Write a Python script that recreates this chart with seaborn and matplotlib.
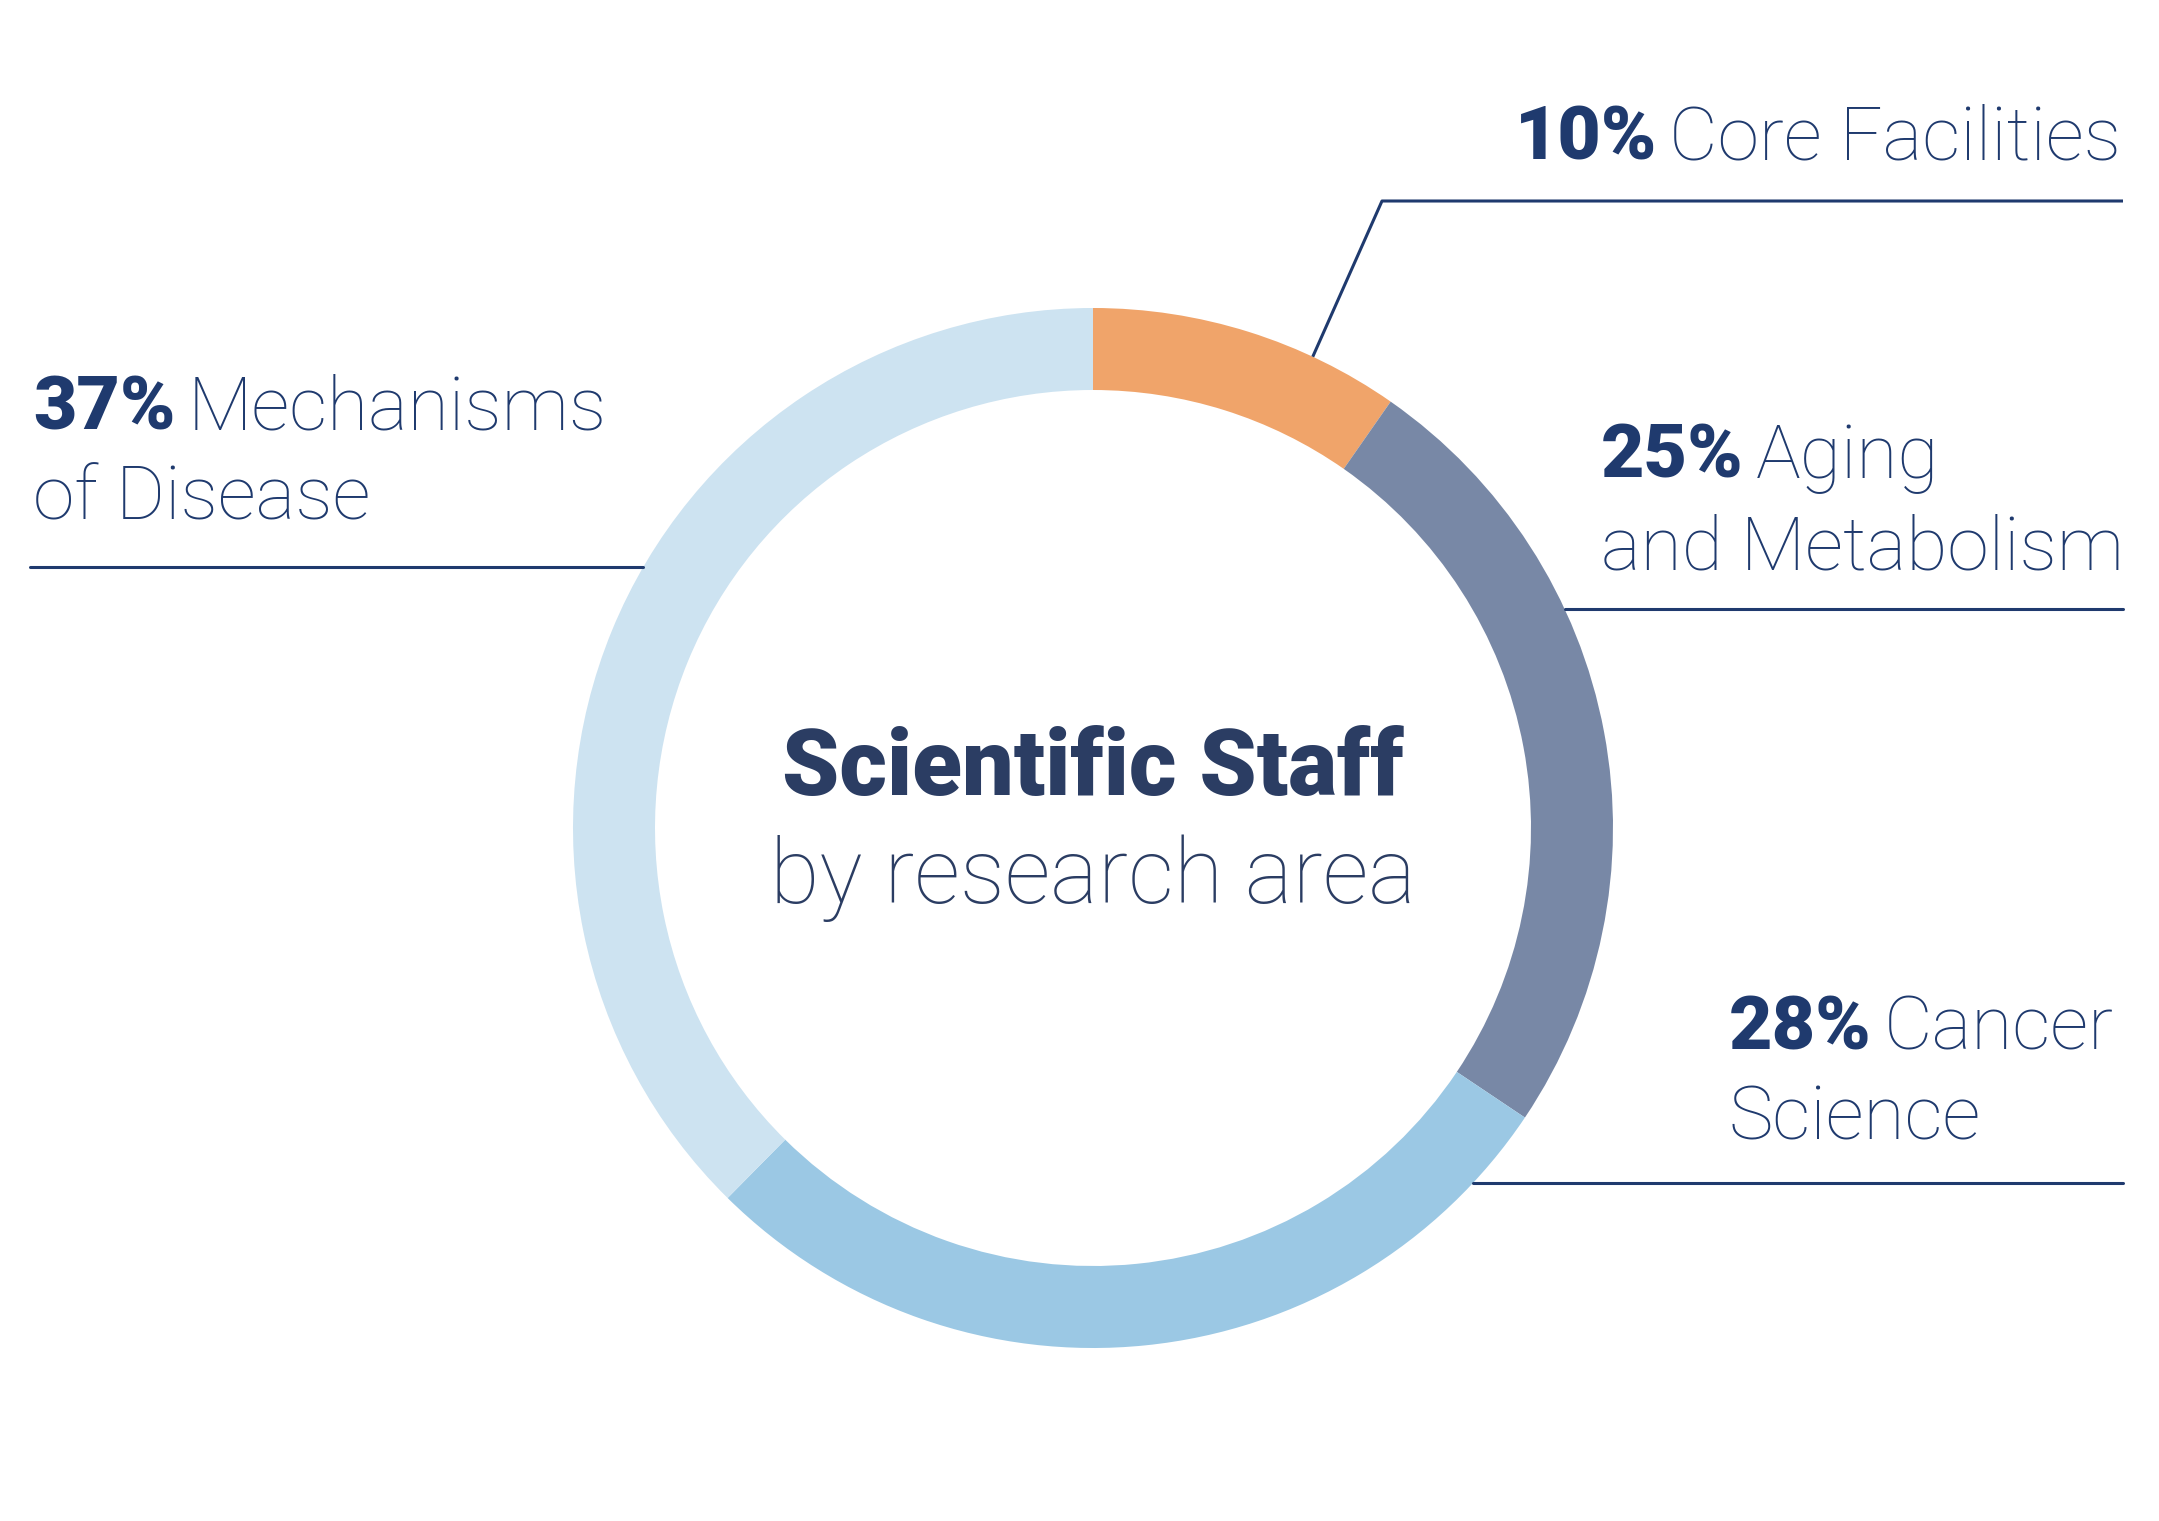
import numpy as np
import seaborn as sns
import matplotlib.pyplot as plt

# data
areas = ["Core Facilities", "Aging and Metabolism", "Cancer Science", "Mechanisms of Disease"]
shares = [9.7, 24.7, 28.0, 37.6]          # arc sizes as drawn
share_labels = [10, 25, 28, 37]           # printed percentages
label_lines = [["Core Facilities"], ["Aging", "and Metabolism"], ["Cancer", "Science"], ["Mechanisms", "of Disease"]]
colors = ["#F0A46A", "#7888A6", "#9BC8E4", "#CDE3F1"]

NAVY = "#1F3A6E"
TITLE_C = "#2B3D63"

sns.set_style("white")
plt.rcParams["font.family"] = ["Roboto", "DejaVu Sans"]

W, H = 2159, 1521
fig = plt.figure(figsize=(W / 100, H / 100), dpi=100)
ax = fig.add_axes([0, 0, 1, 1])

cx, cy, R = 1093, H - 828, 520
ring = 82

ax.pie(shares, colors=sns.color_palette(colors), startangle=90, counterclock=False,
       center=(cx, cy), radius=R, wedgeprops=dict(width=ring, linewidth=0))
ax.set_xlim(0, W)
ax.set_ylim(0, H)
ax.set_aspect("equal")
ax.axis("off")

lw = 2.2


def ring_x(y, side):
    dy = y - cy
    return cx + side * np.sqrt(R ** 2 - dy ** 2)


# leader lines
# core facilities: diagonal from ring edge then horizontal
ang = np.deg2rad(90 - 25)
px, py = cx + R * np.cos(ang), cy + R * np.sin(ang)
ax.plot([px, 1382, 2123], [py, H - 201, H - 201], color=NAVY, lw=lw, solid_capstyle="butt")
# mechanisms
y = H - 567
ax.plot([30, ring_x(y, -1)], [y, y], color=NAVY, lw=lw)
# aging
y = H - 609
ax.plot([ring_x(y, 1), 2123], [y, y], color=NAVY, lw=lw)
# cancer
y = H - 1183
ax.plot([ring_x(y, 1), 2123], [y, y], color=NAVY, lw=lw)

fig.canvas.draw()
rend = fig.canvas.get_renderer()

FS = 54


def two_part(x, y, pct, rest, ha="left"):
    bold = ax.text(x, y, f"{pct}%", fontsize=FS, fontweight="heavy", color=NAVY, va="baseline")
    light = ax.text(x, y, rest, fontsize=FS, fontweight="light", color=NAVY, va="baseline")
    bb_b = bold.get_window_extent(rend)
    bb_l = light.get_window_extent(rend)
    gap = 12
    if ha == "left":
        light.set_x(x + bb_b.width + gap)
    else:
        light.set_x(x - bb_l.width)
        bold.set_x(x - bb_l.width - gap - bb_b.width)


# labels
two_part(2121, H - 159, share_labels[0], label_lines[0][0], ha="right")
two_part(1601, H - 478, share_labels[1], label_lines[1][0])
ax.text(1601, H - 569, label_lines[1][1], fontsize=FS, fontweight="light", color=NAVY, va="baseline")
two_part(1729, H - 1049, share_labels[2], label_lines[2][0])
ax.text(1729, H - 1139, label_lines[2][1], fontsize=FS, fontweight="light", color=NAVY, va="baseline")
two_part(33, H - 430, share_labels[3], label_lines[3][0])
ax.text(33, H - 520, label_lines[3][1], fontsize=FS, fontweight="light", color=NAVY, va="baseline")

# center title
ax.text(cx, H - 795, "Scientific Staff", fontsize=66, fontweight="heavy", color=TITLE_C,
        ha="center", va="baseline")
ax.text(cx, H - 903, "by research area", fontsize=65, fontweight="light", color=TITLE_C,
        ha="center", va="baseline")

fig.savefig("out.png", dpi=100, facecolor="white")
